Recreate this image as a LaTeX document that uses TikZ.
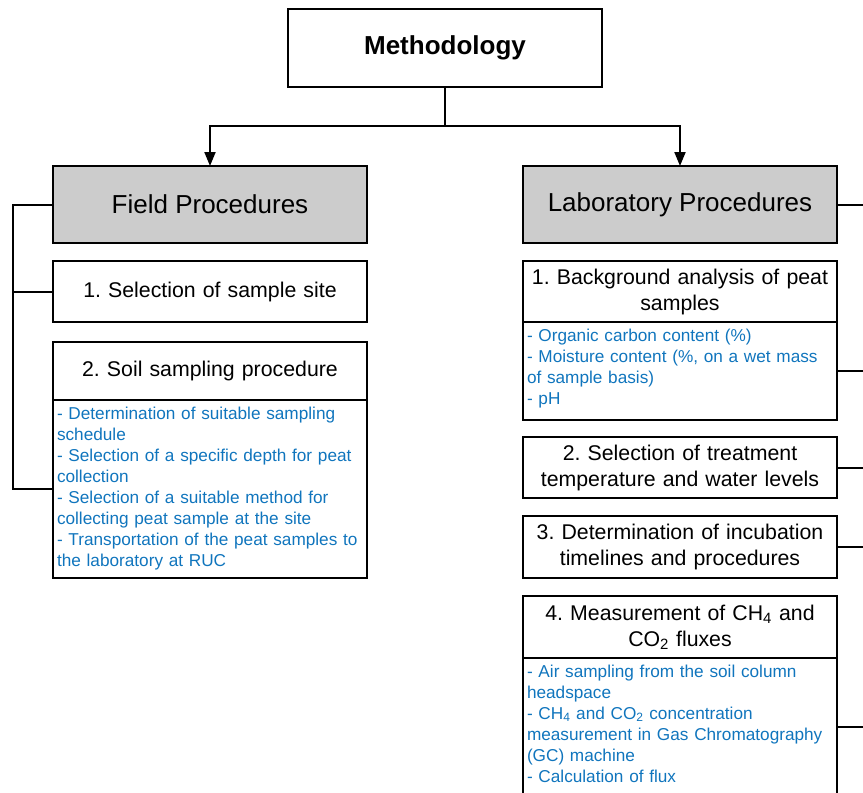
\documentclass[tikz,border=0pt]{standalone}
\usepackage{fontspec}
\setmainfont{Liberation Sans}
\frenchspacing
\usetikzlibrary{arrows.meta}
\definecolor{listblue}{RGB}{16,117,189}
\definecolor{headgray}{RGB}{204,204,204}
\begin{document}
\begin{tikzpicture}[x=1pt,y=-1pt,line width=2pt,
			-{Triangle[width=11pt,length=14pt]},
			title node/.style={rectangle,draw,outer sep=0pt,minimum width=314pt,minimum height=78pt,font=\fontsize{26}{31}\selectfont\bfseries},
			head node/.style={rectangle,draw,fill=headgray,outer sep=0pt,minimum width=314pt,minimum height=77pt,font=\fontsize{26}{31}\selectfont},
			step node/.style={rectangle,draw,outer sep=0pt,inner xsep=3pt,text width=308pt,align=center,minimum height=61pt,font=\fontsize{21.3}{26}\selectfont},
			list node/.style={rectangle,draw,outer sep=0pt,inner xsep=4pt,inner ysep=4pt,text width=306pt,align=left,anchor=north west,text height=15pt,text=listblue,font=\fontsize{17.2}{21.1}\selectfont}
			]
			
			\clip (0,0) rectangle (863,793);
			
			\node[title node] (meth) at (445,48) {Methodology};
			\node[head node] (field) at (210,204.5) {Field Procedures};
			\node[head node] (lab) at (680,204.5) {Laboratory Procedures};
			
			% field side
			\node[step node] (site) at (210,291.5) {1. Selection of sample site};
			\node[step node,minimum height=58pt] (soil) at (210,371) {2. Soil sampling procedure};
			\node[list node,text depth=155pt] (soillist) at (soil.south west) {- Determination of suitable sampling\\schedule\\- Selection of a specific depth for peat\\collection\\- Selection of a suitable method for\\collecting peat sample at the site\\- Transportation of the peat samples to\\the laboratory at RUC};
			
			% laboratory side
			\node[step node] (bg) at (680,291.5) {1. Background analysis of peat\\samples};
			\node[list node,text depth=75pt] (bglist) at (bg.south west) {- Organic carbon content (\%)\\- Moisture content (\%, on a wet mass\\of sample basis)\\- pH};
			\node[step node] (treat) at (680,467.5) {2. Selection of treatment\\temperature and water levels};
			\node[step node,minimum height=62pt] (incub) at (680,547) {3. Determination of incubation\\timelines and procedures};
			\node[step node,minimum height=62pt] (flux) at (680,627) {4. Measurement of CH\textsubscript{4} and\\CO\textsubscript{2} fluxes};
			\node[list node,text depth=115pt] (fluxlist) at (flux.south west) {- Air sampling from the soil column\\headspace\\- CH\textsubscript{4} and CO\textsubscript{2} concentration\\measurement in Gas Chromatography\\(GC) machine\\- Calculation of flux};
			
			\coordinate (split) at (445,126);
			\draw[-] (meth.south) -- (split);
			\draw (split) -| (field.north);
			\draw (split) -| (lab.north);
			
			\draw[-] (field.west) -- ++(-40,0) coordinate (fbar) |- (soillist.west);
			\draw[-] (site.west) -- (site.west -| fbar);
			
			\foreach \b in {lab,bglist,treat,incub,fluxlist} {
				\draw[-] (\b.east) -- ++(40,0);
			}
			
			\end{tikzpicture}
\end{document}
